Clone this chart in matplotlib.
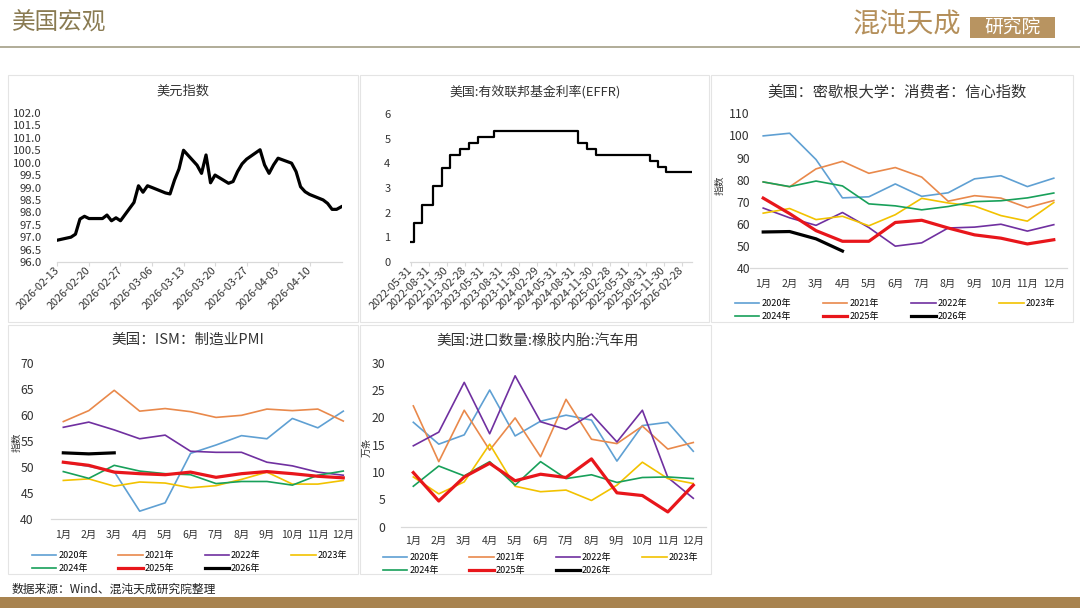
import matplotlib
matplotlib.use('Agg')
import matplotlib.pyplot as plt
import matplotlib.dates as mdates
from matplotlib.patches import Rectangle
from matplotlib.lines import Line2D
import pandas as pd

plt.rcParams['font.family'] = ['Noto Sans CJK SC', 'DejaVu Sans']

W, H = 1080, 608

# ---- 美元指数 (trading days) ----
dxy_dates = pd.bdate_range('2026-02-13', '2026-04-17')
dxy_values = [96.88, 97.00, 97.12, 97.73, 97.84, 97.75, 97.75, 97.89, 97.66, 97.78, 97.66,
              98.40, 99.07, 98.81, 99.07, 99.00, 98.78, 98.74, 99.30, 99.75, 100.50,
              99.90, 99.57, 100.31, 99.19, 99.50, 99.17, 99.24, 99.64, 99.95, 100.14,
              100.52, 99.91, 99.57, 99.91, 100.18, 99.98, 99.64, 99.03, 98.83, 98.72,
              98.50, 98.36, 98.12, 98.12, 98.22]
dxy_ticks = pd.date_range('2026-02-13', '2026-04-10', freq='7D')

# ---- EFFR (change dates) ----
effr_dates = ['2022-05-31', '2022-06-16', '2022-07-28', '2022-09-22', '2022-11-03',
              '2022-12-15', '2023-02-02', '2023-03-23', '2023-05-04', '2023-07-27',
              '2024-09-19', '2024-11-08', '2024-12-19', '2025-09-18', '2025-10-30',
              '2025-12-11', '2026-04-16']
effr_values = [0.83, 1.58, 2.33, 3.08, 3.83, 4.33, 4.58, 4.83, 5.08, 5.33,
               4.83, 4.58, 4.33, 4.09, 3.87, 3.64, 3.64]
effr_ticks = ['2022-05-31', '2022-08-31', '2022-11-30', '2023-02-28', '2023-05-31',
              '2023-08-31', '2023-11-30', '2024-02-29', '2024-05-31', '2024-08-31',
              '2024-11-30', '2025-02-28', '2025-05-31', '2025-08-31', '2025-11-30',
              '2026-02-28']

# ---- monthly series ----
months = [f'{m}月' for m in range(1, 13)]
years = ['2020年', '2021年', '2022年', '2023年', '2024年', '2025年', '2026年']

umich_2020 = [99.8, 101.0, 89.1, 71.8, 72.3, 78.1, 72.5, 74.1, 80.4, 81.8, 76.9, 80.7]
umich_2021 = [79.0, 76.8, 84.9, 88.3, 82.9, 85.5, 81.2, 70.3, 72.8, 71.7, 67.4, 70.6]
umich_2022 = [67.2, 62.8, 59.4, 65.2, 58.4, 50.0, 51.5, 58.2, 58.6, 59.9, 56.8, 59.7]
umich_2023 = [64.9, 67.0, 62.0, 63.5, 59.2, 64.2, 71.6, 69.5, 68.1, 63.8, 61.3, 69.7]
umich_2024 = [79.0, 76.9, 79.4, 77.2, 69.1, 68.2, 66.4, 67.9, 70.1, 70.5, 71.8, 74.0]
umich_2025 = [71.7, 64.7, 57.0, 52.2, 52.2, 60.7, 61.7, 58.2, 55.1, 53.6, 51.0, 52.9]
umich_2026 = [56.4, 56.6, 53.3, 47.8]

ism_2020 = [50.9, 50.1, 49.1, 41.5, 43.1, 52.6, 54.2, 56.0, 55.4, 59.3, 57.5, 60.7]
ism_2021 = [58.7, 60.8, 64.7, 60.7, 61.2, 60.6, 59.5, 59.9, 61.1, 60.8, 61.1, 58.8]
ism_2022 = [57.6, 58.6, 57.1, 55.4, 56.1, 53.0, 52.8, 52.8, 50.9, 50.2, 49.0, 48.4]
ism_2023 = [47.4, 47.7, 46.3, 47.1, 46.9, 46.0, 46.4, 47.6, 49.0, 46.7, 46.7, 47.4]
ism_2024 = [49.1, 47.8, 50.3, 49.2, 48.7, 48.5, 46.8, 47.2, 47.2, 46.5, 48.4, 49.2]
ism_2025 = [50.9, 50.3, 49.0, 48.7, 48.5, 49.0, 48.0, 48.7, 49.1, 48.7, 48.2, 47.9]
ism_2026 = [52.7, 52.5, 52.7]

tire_2020 = [19.1, 15.1, 16.8, 25.0, 16.6, 19.3, 20.4, 19.5, 12.0, 18.5, 19.1, 13.8]
tire_2021 = [22.1, 11.9, 21.3, 14.0, 19.9, 12.8, 23.3, 16.0, 15.2, 18.4, 14.2, 15.4]
tire_2022 = [14.8, 17.3, 26.4, 17.0, 27.6, 19.2, 17.8, 20.6, 15.5, 21.3, 9.0, 5.2]
tire_2023 = [9.1, 6.0, 8.2, 15.1, 7.4, 6.4, 6.7, 4.8, 7.6, 11.8, 8.8, 7.9]
tire_2024 = [7.4, 11.1, 9.3, 11.9, 7.6, 11.9, 8.8, 9.5, 8.1, 9.0, 9.1, 8.8]
tire_2025 = [9.9, 4.7, 9.1, 11.6, 8.4, 9.6, 9.0, 12.4, 6.2, 5.7, 2.7, 7.6]
tire_2026 = []

year_colors = ['#5fa0d3', '#e9894b', '#7030a0', '#f2c200', '#18a05a', '#e8161b', '#000000']
year_widths = [1.2, 1.2, 1.2, 1.2, 1.2, 2.3, 2.3]

TXT = '#333333'
AXC = '#d9d9d9'


def frac(x0, y0, x1, y1):
    return [x0 / W, 1 - y1 / H, (x1 - x0) / W, (y1 - y0) / H]


def px(x, y):
    return x / W, 1 - y / H


fig = plt.figure(figsize=(W / 100, H / 100), dpi=100)

# header / footer
fig.text(*px(12, 23), '美国宏观', fontsize=17, color='#8a7b52', ha='left', va='center')
fig.add_artist(Line2D([0, 1], [1 - 46.5 / H] * 2, color='#aaa690', lw=1.3))
fig.text(*px(907, 25), '混沌天成', fontsize=19.5, color='#b48f5a', ha='center', va='center')
fig.add_artist(Rectangle(px(970, 37.5), 85 / W, 20 / H, transform=fig.transFigure,
                         color='#b89461', lw=0))
fig.text(*px(1012, 27.5), '研究院', fontsize=13.5, color='white', ha='center', va='center')
fig.text(*px(12, 589), '数据来源：Wind、混沌天成研究院整理', fontsize=8.5, color='#222222',
         ha='left', va='center')
fig.add_artist(Rectangle((0, 0), 1, 11 / H, transform=fig.transFigure, color='#a8834f', lw=0))

# panel frames
for x0, y0, x1, y1 in [(8, 75, 358, 322), (360, 75, 709, 322), (711, 75, 1073, 322),
                       (8, 325, 358, 574), (360, 325, 711, 574)]:
    fig.add_artist(Rectangle(px(x0, y1), (x1 - x0) / W, (y1 - y0) / H,
                             transform=fig.transFigure, fill=False, ec='#e4e4e4', lw=0.8))


def style(ax):
    for s in ['top', 'right', 'left']:
        ax.spines[s].set_visible(False)
    ax.spines['bottom'].set_color(AXC)
    ax.spines['bottom'].set_linewidth(0.9)
    ax.tick_params(axis='y', length=0, labelcolor=TXT)
    ax.tick_params(axis='x', labelcolor=TXT, color=AXC)


def rotate_dates(ax):
    for t in ax.get_xticklabels():
        t.set_rotation(45)
        t.set_ha('right')
        t.set_va('center')
        t.set_rotation_mode('anchor')


# ---- chart 1: 美元指数 ----
ax1 = fig.add_axes(frac(57, 113, 342, 262))
ax1.plot(dxy_dates, dxy_values, color='black', lw=2.3)
ax1.set_xlim(mdates.date2num(pd.Timestamp('2026-02-13')) - 0.1,
             mdates.date2num(pd.Timestamp('2026-04-17')) + 0.2)
ax1.set_ylim(96, 102)
ax1.set_yticks([96 + 0.5 * i for i in range(13)])
ax1.yaxis.set_major_formatter(plt.FuncFormatter(lambda v, p: f'{v:.1f}'))
ax1.set_xticks(dxy_ticks)
ax1.xaxis.set_major_formatter(mdates.DateFormatter('%Y-%m-%d'))
style(ax1)
ax1.tick_params(axis='y', labelsize=8.2, pad=11)
ax1.tick_params(axis='x', labelsize=7.8, length=3, pad=2)
rotate_dates(ax1)
fig.text(*px(183, 91), '美元指数', fontsize=9.5, color=TXT, ha='center', va='center')

# ---- chart 2: EFFR ----
ax2 = fig.add_axes(frac(410, 114, 692, 262))
ax2.plot(pd.to_datetime(effr_dates), effr_values, color='black', lw=1.6, drawstyle='steps-post')
ax2.set_xlim(pd.Timestamp('2022-05-27'), pd.Timestamp('2026-04-20'))
ax2.set_ylim(0, 6)
ax2.set_yticks(range(7))
ax2.set_xticks(pd.to_datetime(effr_ticks))
ax2.xaxis.set_major_formatter(mdates.DateFormatter('%Y-%m-%d'))
style(ax2)
ax2.tick_params(axis='y', labelsize=8, pad=14)
ax2.tick_params(axis='x', labelsize=7.8, length=3, pad=2)
rotate_dates(ax2)
fig.text(*px(535, 92), '美国:有效联邦基金利率(EFFR)', fontsize=9.3, color=TXT, ha='center', va='center')


# ---- monthly charts ----
def month_chart(rect, series, ylim, ystep, ylabel, ylabel_xy, ypad, xpad, legend_xy, legend_w):
    ax = fig.add_axes(rect)
    handles = []
    for name, vals, c, lw in zip(years, series, year_colors, year_widths):
        h, = ax.plot(range(1, len(vals) + 1), vals, color=c, lw=lw, label=name)
        handles.append(h)
    ax.set_xlim(0.5, 12.5)
    ax.set_ylim(*ylim)
    ax.set_yticks(range(ylim[0], ylim[1] + 1, ystep))
    ax.set_xticks(range(1, 13))
    ax.set_xticklabels(months)
    style(ax)
    ax.tick_params(axis='y', labelsize=8.8, pad=ypad)
    ax.tick_params(axis='x', labelsize=7.5, length=0, pad=xpad)
    fig.text(*px(*ylabel_xy), ylabel, fontsize=7, color=TXT, rotation=90,
             ha='center', va='center')
    order = [0, 4, 1, 5, 2, 6, 3]
    lx, ly = px(*legend_xy)
    ax.legend([handles[i] for i in order], [years[i] for i in order],
              loc='upper left', bbox_to_anchor=(lx, ly, legend_w / W, 0),
              bbox_transform=fig.transFigure, ncol=4, mode='expand', frameon=False,
              fontsize=6.5, handlelength=2.7, handletextpad=0.2, borderaxespad=0,
              borderpad=0, labelspacing=0.45, columnspacing=0.5)
    return ax


ax3 = month_chart(frac(750, 113.3, 1067, 268.3),
                  [umich_2020, umich_2021, umich_2022, umich_2023, umich_2024, umich_2025, umich_2026],
                  (40, 110), 10, '指数', (720, 185), 0, 8, (735, 299), 320)
fig.text(*px(897, 92), '美国：密歇根大学：消费者：信心指数', fontsize=11, color=TXT,
         ha='center', va='center')

ax4 = month_chart(frac(50.6, 362.7, 356, 519),
                  [ism_2020, ism_2021, ism_2022, ism_2023, ism_2024, ism_2025, ism_2026],
                  (40, 70), 5, '指数', (17, 442), 12, 8, (32, 551), 315)
fig.text(*px(188, 340), '美国：ISM：制造业PMI', fontsize=10.5, color=TXT,
         ha='center', va='center')

ax5 = month_chart(frac(400.6, 362.7, 706, 526.7),
                  [tire_2020, tire_2021, tire_2022, tire_2023, tire_2024, tire_2025, tire_2026],
                  (0, 30), 5, '万条', (368, 447), 11, 7, (383, 553), 315)
fig.text(*px(538, 342), '美国:进口数量:橡胶内胎:汽车用', fontsize=10.5, color=TXT,
         ha='center', va='center')

fig.savefig('out.png', dpi=100, facecolor='white')
